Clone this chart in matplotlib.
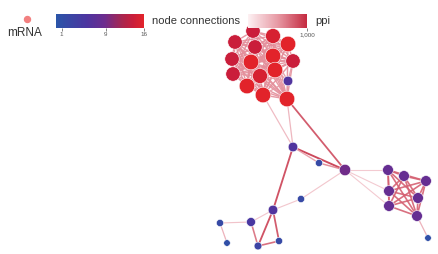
import itertools
import numpy as np
import matplotlib
matplotlib.use("Agg")
import matplotlib.pyplot as plt
from matplotlib.collections import LineCollection
from matplotlib.colors import LinearSegmentedColormap, Normalize
from matplotlib.colorbar import ColorbarBase

plt.rcParams['font.family'] = ['Liberation Sans', 'DejaVu Sans']

# node layout (pixel space), and node connection counts
node_x = [253, 273, 288, 235, 255, 273, 232, 293, 251, 275, 233, 260, 247, 263, 287,
          288, 293, 319, 345, 388, 404, 426, 389, 418, 389, 417, 428,
          301, 273, 251, 220, 227, 258, 279]
node_y = [32, 37, 45, 43, 48, 57, 60, 62, 63, 71, 75, 77, 87, 96, 100,
          82, 148, 164, 171, 171, 177, 182, 192, 199, 207, 217, 239,
          200, 211, 223, 224, 244, 247, 242]
node_deg = [14, 15, 16, 14, 14, 16, 14, 14, 16, 16, 14, 15, 16, 16, 16,
            6, 6, 2, 9, 8, 8, 8, 8, 8, 8, 8, 1,
            2, 6, 5, 2, 1, 3, 2]

# dense groups
top_group = list(range(15))
right_group = [19, 20, 21, 22, 23, 24, 25]

# other edges: (a, b, ppi score)
extra_edges = [
    (15, 7, 500), (15, 9, 500), (15, 11, 500), (15, 13, 500), (15, 14, 500), (15, 5, 500),
    (13, 16, 350), (14, 16, 380), (14, 18, 850), (16, 18, 950), (16, 17, 500),
    (17, 18, 600), (16, 28, 900), (18, 27, 280), (27, 28, 280),
    (18, 19, 250), (18, 22, 250), (18, 24, 250), (25, 26, 400),
    (28, 29, 280), (29, 30, 300), (30, 31, 400), (29, 32, 700),
    (28, 32, 900), (28, 33, 850), (32, 33, 750),
]
top_score = 550
right_score = 750

edges = [(a, b, top_score) for a, b in itertools.combinations(top_group, 2)]
edges += [(a, b, right_score) for a, b in itertools.combinations(right_group, 2)]
edges += extra_edges

node_cmap = LinearSegmentedColormap.from_list(
    "nodes", [(0.0, "#2a55a8"), (0.35, "#4d35a0"), (0.55, "#6c2c8e"),
              (0.75, "#a8264f"), (0.87, "#c81e3c"), (1.0, "#e2232a")])
node_norm = Normalize(0, 16)
ppi_cmap = LinearSegmentedColormap.from_list("ppi", ["#fdf1f3", "#e79aa5", "#c42a40"])
ppi_norm = Normalize(0, 1000)

fig = plt.figure(figsize=(4.38, 2.55), dpi=100)
ax = fig.add_axes([0, 0, 1, 1])
ax.set_xlim(0, 438)
ax.set_ylim(255, 0)
ax.axis('off')

x = np.array(node_x)
y = np.array(node_y)
deg = np.array(node_deg)

segs = [[(x[a], y[a]), (x[b], y[b])] for a, b, _ in edges]
scores = np.array([s for _, _, s in edges])
lc = LineCollection(segs, colors=ppi_cmap(ppi_norm(scores)),
                    linewidths=0.6 + scores / 1000 * 0.8, alpha=0.9, zorder=1)
ax.add_collection(lc)

diam_px = 6.0 + 0.6 * deg
ax.scatter(x, y, s=(diam_px * 0.72) ** 2, c=deg, cmap=node_cmap, norm=node_norm,
           edgecolors='white', linewidths=0.4, zorder=3)

# legend: mRNA dot
ax.scatter([27], [20], s=(6 * 0.72) ** 2, color='#f28080', zorder=3)
ax.text(25, 33, "mRNA", fontsize=8.5, ha='center', va='center', color='#333333')

# node connections colorbar
cax1 = fig.add_axes([56 / 438, 1 - 29 / 255, 88 / 438, 14 / 255])
cb1 = ColorbarBase(cax1, cmap=node_cmap, norm=node_norm, orientation='horizontal')
cb1.set_ticks([1, 9, 16])
cb1.outline.set_visible(False)
cax1.tick_params(labelsize=4.5, length=2, width=0.5, pad=0.5, colors='#555555')
fig.text(152 / 438, 1 - 21 / 255, "node connections", fontsize=8, va='center',
         color='#333333')

# ppi colorbar
cax2 = fig.add_axes([248 / 438, 1 - 29 / 255, 59 / 438, 14 / 255])
cb2 = ColorbarBase(cax2, cmap=ppi_cmap, norm=ppi_norm, orientation='horizontal')
cb2.set_ticks([1000])
cb2.set_ticklabels(["1,000"])
cb2.outline.set_visible(False)
cax2.tick_params(labelsize=4.5, length=2, width=0.5, pad=0.5, colors='#555555')
fig.text(315 / 438, 1 - 21 / 255, "ppi", fontsize=8, va='center', color='#333333')

fig.savefig("out.png", dpi=100)
